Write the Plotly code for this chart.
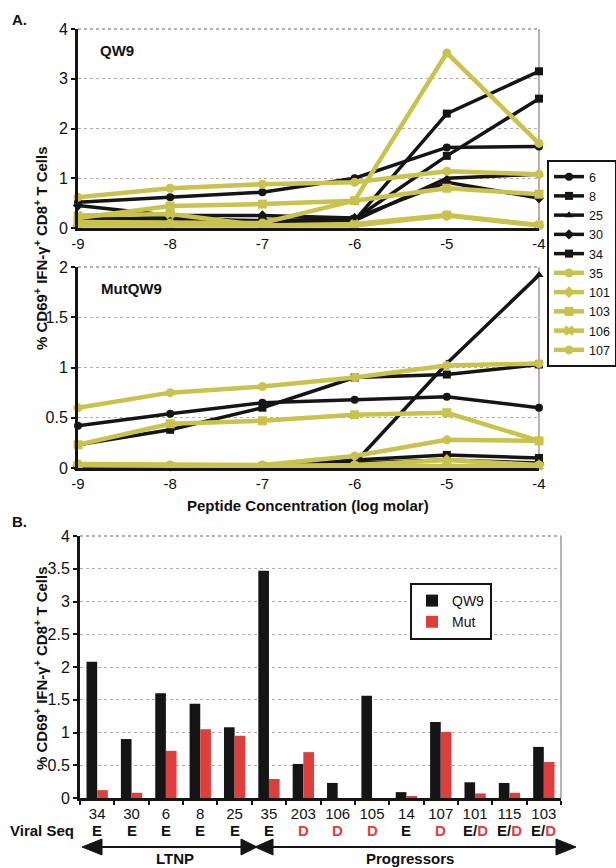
import plotly.graph_objects as go

W, H = 616, 868
FONT = "Liberation Sans, Arial, Helvetica, sans-serif"

# ---------------- data ----------------
conc = [-9, -8, -7, -6, -5, -4]
conc_labels = ["-9", "-8", "-7", "-6", "-5", "-4"]
donors = ["6", "8", "25", "30", "34", "35", "101", "103", "106", "107"]

# Panel A, QW9 peptide
qw9_6 = [0.52, 0.62, 0.72, 1.00, 1.62, 1.64]
qw9_8 = [0.20, 0.18, 0.15, 0.18, 1.45, 2.60]
qw9_25 = [0.10, 0.25, 0.10, 0.15, 1.00, 1.08]
qw9_30 = [0.45, 0.25, 0.25, 0.20, 0.92, 0.60]
qw9_34 = [0.15, 0.20, 0.12, 0.15, 2.30, 3.15]
qw9_35 = [0.12, 0.10, 0.10, 0.55, 3.52, 1.70]
qw9_101 = [0.05, 0.05, 0.05, 0.05, 0.25, 0.05]
qw9_103 = [0.20, 0.44, 0.48, 0.55, 0.80, 0.68]
qw9_106 = [0.25, 0.28, 0.05, 0.08, 0.26, 0.06]
qw9_107 = [0.62, 0.80, 0.88, 0.92, 1.14, 1.08]

# Panel A, MutQW9 peptide
mut_6 = [0.42, 0.54, 0.65, 0.68, 0.71, 0.60]
mut_8 = [0.23, 0.38, 0.60, 0.90, 0.93, 1.03]
mut_25 = [0.02, 0.02, 0.02, 0.05, 1.04, 1.92]
mut_30 = [0.02, 0.02, 0.02, 0.05, 0.08, 0.05]
mut_34 = [0.02, 0.02, 0.02, 0.08, 0.13, 0.10]
mut_35 = [0.04, 0.03, 0.03, 0.12, 0.28, 0.27]
mut_101 = [0.03, 0.02, 0.02, 0.03, 0.08, 0.03]
mut_103 = [0.23, 0.44, 0.47, 0.53, 0.55, 0.27]
mut_106 = [0.03, 0.02, 0.02, 0.02, 0.02, 0.02]
mut_107 = [0.60, 0.75, 0.81, 0.90, 1.02, 1.04]

# Panel B
bar_patients = ["34", "30", "6", "8", "25", "35", "203", "106", "105", "14", "107", "101", "115", "103"]
bar_qw9 = [2.08, 0.90, 1.60, 1.44, 1.08, 3.47, 0.52, 0.23, 1.56, 0.09, 1.16, 0.24, 0.23, 0.78]
bar_mut = [0.12, 0.08, 0.72, 1.05, 0.95, 0.29, 0.70, 0.00, 0.00, 0.03, 1.01, 0.07, 0.08, 0.55]
viral_seq = ["E", "E", "E", "E", "E", "E", "D", "D", "D", "E", "D", "E/D", "E/D", "E/D"]

qw9_series = [qw9_6, qw9_8, qw9_25, qw9_30, qw9_34, qw9_35, qw9_101, qw9_103, qw9_106, qw9_107]
mut_series = [mut_6, mut_8, mut_25, mut_30, mut_34, mut_35, mut_101, mut_103, mut_106, mut_107]

# ---------------- styles ----------------
BLACK = "#151515"
YELLOW = "#c9c24c"
RED = "#de3f3c"
GRID = "#b9a9a9"
symbols = ["circle", "square", "triangle-up", "diamond", "square",
           "circle", "diamond", "square", "x", "circle"]


def px(x):
    return x / W


def py(y):
    return 1 - y / H


fig = go.Figure()

for i, d in enumerate(donors):
    col = BLACK if i < 5 else YELLOW
    lw = 3.5 if i < 5 else 4.5
    ms = 8 if i < 5 else 9
    fig.add_trace(go.Scatter(
        x=conc, y=qw9_series[i], mode="lines+markers", name=d,
        line=dict(color=col, width=lw),
        marker=dict(color=col, size=ms, symbol=symbols[i]),
        xaxis="x", yaxis="y", legend="legend", cliponaxis=False))
for i, d in enumerate(donors):
    col = BLACK if i < 5 else YELLOW
    lw = 3.5 if i < 5 else 4.5
    ms = 8 if i < 5 else 9
    fig.add_trace(go.Scatter(
        x=conc, y=mut_series[i], mode="lines+markers", name=d,
        line=dict(color=col, width=lw),
        marker=dict(color=col, size=ms, symbol=symbols[i]),
        xaxis="x2", yaxis="y2", showlegend=False, cliponaxis=False))

fig.add_trace(go.Bar(x=bar_patients, y=bar_qw9, name="QW9", marker_color=BLACK,
                     marker_line_width=0, xaxis="x3", yaxis="y3", legend="legend2"))
fig.add_trace(go.Bar(x=bar_patients, y=bar_mut, name="Mut", marker_color=RED,
                     marker_line_width=0, xaxis="x3", yaxis="y3", legend="legend2"))

tickfont = dict(family=FONT, size=16, color="#111")
common_y = dict(showline=True, linecolor=BLACK, linewidth=3, ticks="outside",
                ticklen=4, tickcolor=BLACK, tickwidth=2, showgrid=True,
                gridcolor=GRID, griddash="dot", gridwidth=1, zeroline=False,
                tickfont=tickfont, automargin=False)
common_x = dict(showline=True, linecolor=BLACK, linewidth=3, ticks="",
                showgrid=False, zeroline=False, automargin=False, tickangle=0,
                tickfont=dict(family=FONT, size=15, color="#111"))

fig.update_layout(
    width=W, height=H, autosize=False,
    margin=dict(l=0, r=0, t=0, b=0, autoexpand=False),
    paper_bgcolor="white", plot_bgcolor="white",
    font=dict(family=FONT, color="#111"),
    barmode="group", bargap=0.38, bargroupgap=0.0,
    xaxis=dict(domain=[px(78), px(539)], range=[-9, -4], anchor="y",
               tickvals=conc, ticktext=conc_labels, **common_x),
    yaxis=dict(domain=[py(228), py(29)], range=[0, 4], anchor="x",
               tickvals=[0, 1, 2, 3, 4], **common_y),
    xaxis2=dict(domain=[px(78), px(539)], range=[-9, -4], anchor="y2",
                tickvals=conc, ticktext=conc_labels, **common_x),
    yaxis2=dict(domain=[py(468), py(267)], range=[0, 2], anchor="x2",
                tickvals=[0, 0.5, 1, 1.5, 2], **common_y),
    xaxis3=dict(domain=[px(80), px(561)], anchor="y3", type="category",
                range=[-0.5, len(bar_patients) - 0.5], tickangle=0,
                showline=True, linecolor=BLACK, linewidth=3, ticks="outside",
                tickson="boundaries", ticklen=4, tickcolor=BLACK, tickwidth=2,
                showgrid=False, zeroline=False, automargin=False,
                tickfont=dict(family=FONT, size=15, color="#111")),
    yaxis3=dict(domain=[py(798), py(536)], range=[0, 4], anchor="x3",
                tickvals=[0, 0.5, 1, 1.5, 2, 2.5, 3, 3.5, 4], **common_y),
    legend=dict(x=px(547), y=py(160), xanchor="left", yanchor="top",
                bordercolor=BLACK, borderwidth=2, bgcolor="white",
                font=dict(family=FONT, size=12.5, color="#111"),
                itemwidth=30, tracegroupgap=0),
    legend2=dict(x=px(410), y=py(583), xanchor="left", yanchor="top",
                 bordercolor=BLACK, borderwidth=2, bgcolor="white",
                 font=dict(family=FONT, size=14, color="#111"),
                 itemwidth=30),
)

# right borders and top borders
for xr, yr in [("x domain", "y domain"), ("x2 domain", "y2 domain"), ("x3 domain", "y3 domain")]:
    fig.add_shape(type="line", xref=xr, yref=yr, x0=1, x1=1, y0=0, y1=1,
                  line=dict(color="#a89494", width=1.5), layer="below")
    fig.add_shape(type="line", xref=xr, yref=yr, x0=0, x1=1, y0=1, y1=1,
                  line=dict(color="#a89494", width=1.5, dash="dot"), layer="below")

ann = []


def text(x, y, s, size=15, bold=True, **kw):
    d = dict(x=px(x), y=py(y), xref="paper", yref="paper",
             text=("<b>%s</b>" % s) if bold else s, showarrow=False,
             font=dict(family=FONT, size=size, color="#111"))
    d.update(kw)
    ann.append(d)


text(10, 19, "A.", xanchor="left", yanchor="middle")
text(98, 50, "QW9", xanchor="left", yanchor="middle")
text(99, 288, "MutQW9", xanchor="left", yanchor="middle")
text(308, 505, "Peptide Concentration (log molar)", xanchor="center", yanchor="middle")
text(10, 521, "B.", xanchor="left", yanchor="middle")
ytitle = "% CD69<sup>+</sup> IFN-γ<sup>+</sup> CD8<sup>+</sup> T Cells"
text(40, 248, ytitle, textangle=-90, xanchor="center", yanchor="middle")
text(40, 668, ytitle, textangle=-90, xanchor="center", yanchor="middle")
text(8, 830, "Viral Seq", xanchor="left", yanchor="middle")
text(175, 858, "LTNP", xanchor="center", yanchor="middle")
text(410, 858, "Progressors", xanchor="center", yanchor="middle")

for i, s in enumerate(viral_seq):
    s_html = s.replace("D", "<span style='color:%s'>D</span>" % RED)
    ann.append(dict(x=i, y=py(830), xref="x3", yref="paper",
                    text="<b>%s</b>" % s_html, showarrow=False,
                    xanchor="center", yanchor="middle",
                    font=dict(family=FONT, size=15, color="#111")))

fig.update_layout(annotations=ann)

# arrows below the bar chart
ay = 847
hh = 8
fig.add_shape(type="line", xref="paper", yref="paper", x0=px(98), x1=px(244),
              y0=py(ay), y1=py(ay), line=dict(color=BLACK, width=2))
fig.add_shape(type="line", xref="paper", yref="paper", x0=px(270), x1=px(560),
              y0=py(ay), y1=py(ay), line=dict(color=BLACK, width=2))


def tri(tip, base):
    return "M %f %f L %f %f L %f %f Z" % (px(tip), py(ay), px(base), py(ay - hh), px(base), py(ay + hh))


for tip, base in [(82, 102), (257, 241), (255, 273), (576, 556)]:
    fig.add_shape(type="path", xref="paper", yref="paper", path=tri(tip, base),
                  fillcolor=BLACK, line=dict(color=BLACK, width=1))

fig.write_html("out.html", config={"displayModeBar": False},
               post_script="document.body.style.margin='0';document.body.style.padding='0';")
